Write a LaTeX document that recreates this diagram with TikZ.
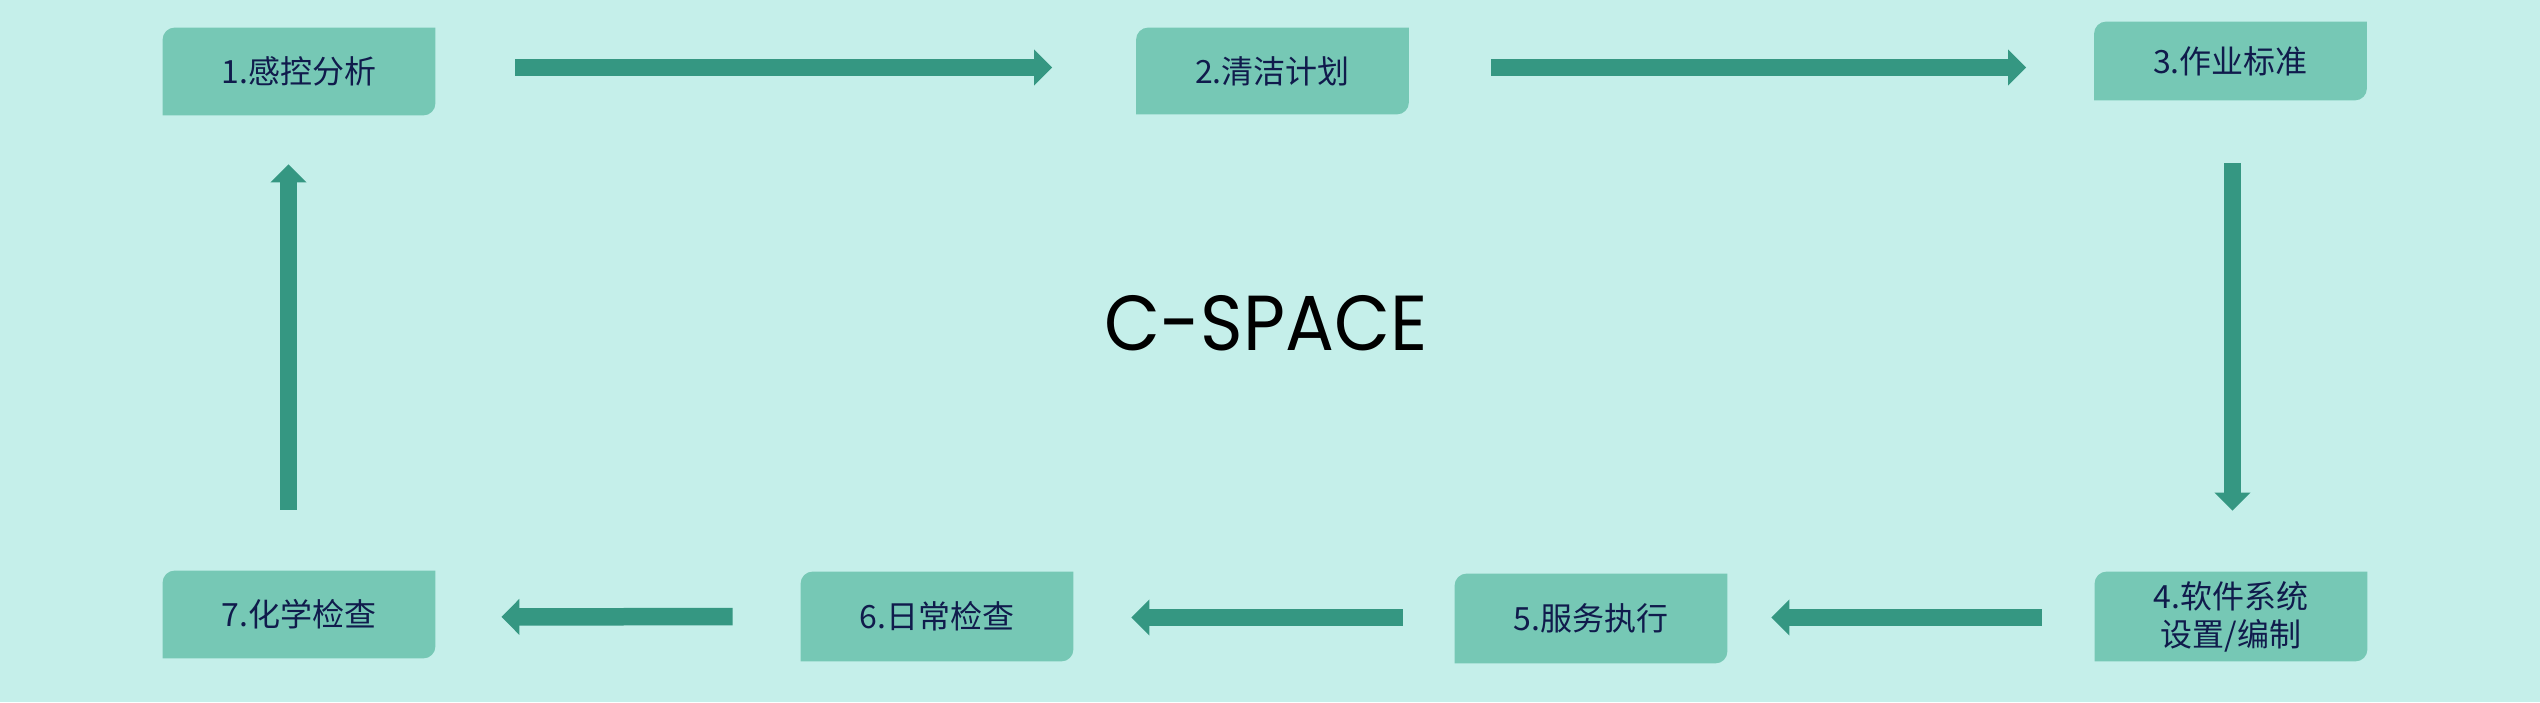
\documentclass[tikz,border=0pt]{standalone}
\usepackage{fontspec}
\newfontfamily\cjk{Noto Sans CJK SC}
\newfontfamily\titlefont{Poppins}
\usetikzlibrary{arrows.meta}
\definecolor{bgc}{HTML}{C5EFEA}
\definecolor{boxc}{HTML}{76C8B5}
\definecolor{arrc}{HTML}{359782}
\definecolor{txtc}{HTML}{101B4C}
\pgfdeclarelayer{bglayer}
\pgfdeclarelayer{boxlayer}
\pgfsetlayers{bglayer,boxlayer,main}
\newcommand\rdbox[1]{%
  \fill[boxc] (#1.south west) -- ([yshift=-6pt]#1.north west)
    arc[start angle=180,end angle=90,radius=6pt] -- (#1.north east)
    -- ([yshift=6pt]#1.south east)
    arc[start angle=0,end angle=-90,radius=6pt] -- cycle;}
\tikzset{
  stepbox/.style={inner sep=0pt, minimum width=136pt, text=txtc, align=center,
    font=\cjk\fontsize{16pt}{19pt}\selectfont},
  barrow/.style={draw=arrc, line width=8.75pt,
    -{Triangle[width=17.5pt,length=9pt]}}
}
\begin{document}
\begin{tikzpicture}
\useasboundingbox (0,0) rectangle (1270pt,-351pt);
\begin{pgfonlayer}{bglayer}
\fill[bgc] (0,0) rectangle (1270pt,-351pt);
\end{pgfonlayer}
\begin{scope}[x=0.5pt,y=-0.5pt]
\node[stepbox, minimum height=43.5pt] (b1) at (299,71.5) {1.感控分析};
\node[stepbox, minimum height=43pt] (b2) at (1272.5,71) {2.清洁计划};
\node[stepbox, minimum height=39pt] (b3) at (2230.5,61) {3.作业标准};
\node[stepbox, minimum height=44.5pt] (b4) at (2231,616.5) {4.软件系统\\设置/编制};
\node[stepbox, minimum height=44.5pt] (b5) at (1591,618.5) {5.服务执行};
\node[stepbox, minimum height=44.5pt] (b6) at (937,616.5) {6.日常检查};
\node[stepbox, minimum height=43.5pt] (b7) at (299,614.5) {7.化学检查};
\node[font=\titlefont\fontsize{39pt}{46pt}\selectfont, text=black, inner sep=0pt] (title) at (1266,323.5) {\scalebox{0.93}[1]{C-SPACE}};
\end{scope}
\begin{pgfonlayer}{boxlayer}
\rdbox{b1}\rdbox{b2}\rdbox{b3}\rdbox{b4}\rdbox{b5}\rdbox{b6}\rdbox{b7}
\end{pgfonlayer}
\draw[barrow, shorten <=40pt, shorten >=42pt] ([yshift=2pt]b1.east) -- ([yshift=1.75pt]b2.west);
\draw[barrow, shorten <=41pt, shorten >=34pt] ([yshift=1.75pt]b2.east) -- ([yshift=-3.25pt]b3.west);
\draw[barrow, shorten <=31.5pt, shorten >=30.5pt] ([xshift=1pt]b3.south) -- ([xshift=0.75pt]b4.north);
\draw[barrow, shorten <=26.5pt, shorten >=22pt] ([yshift=-0.5pt]b4.west) -- ([yshift=0.5pt]b5.east);
\draw[barrow, shorten <=26pt, shorten >=29pt] ([yshift=0.5pt]b5.west) -- ([yshift=-0.5pt]b6.east);
\draw[barrow, shorten <=34pt, shorten >=33pt] (b6.west) -- ([yshift=-1.25pt]b7.east);
\draw[barrow, shorten <=30.5pt, shorten >=24.5pt] ([xshift=-5.25pt]b7.north) -- ([xshift=-5.25pt]b1.south);
\end{tikzpicture}
\end{document}
